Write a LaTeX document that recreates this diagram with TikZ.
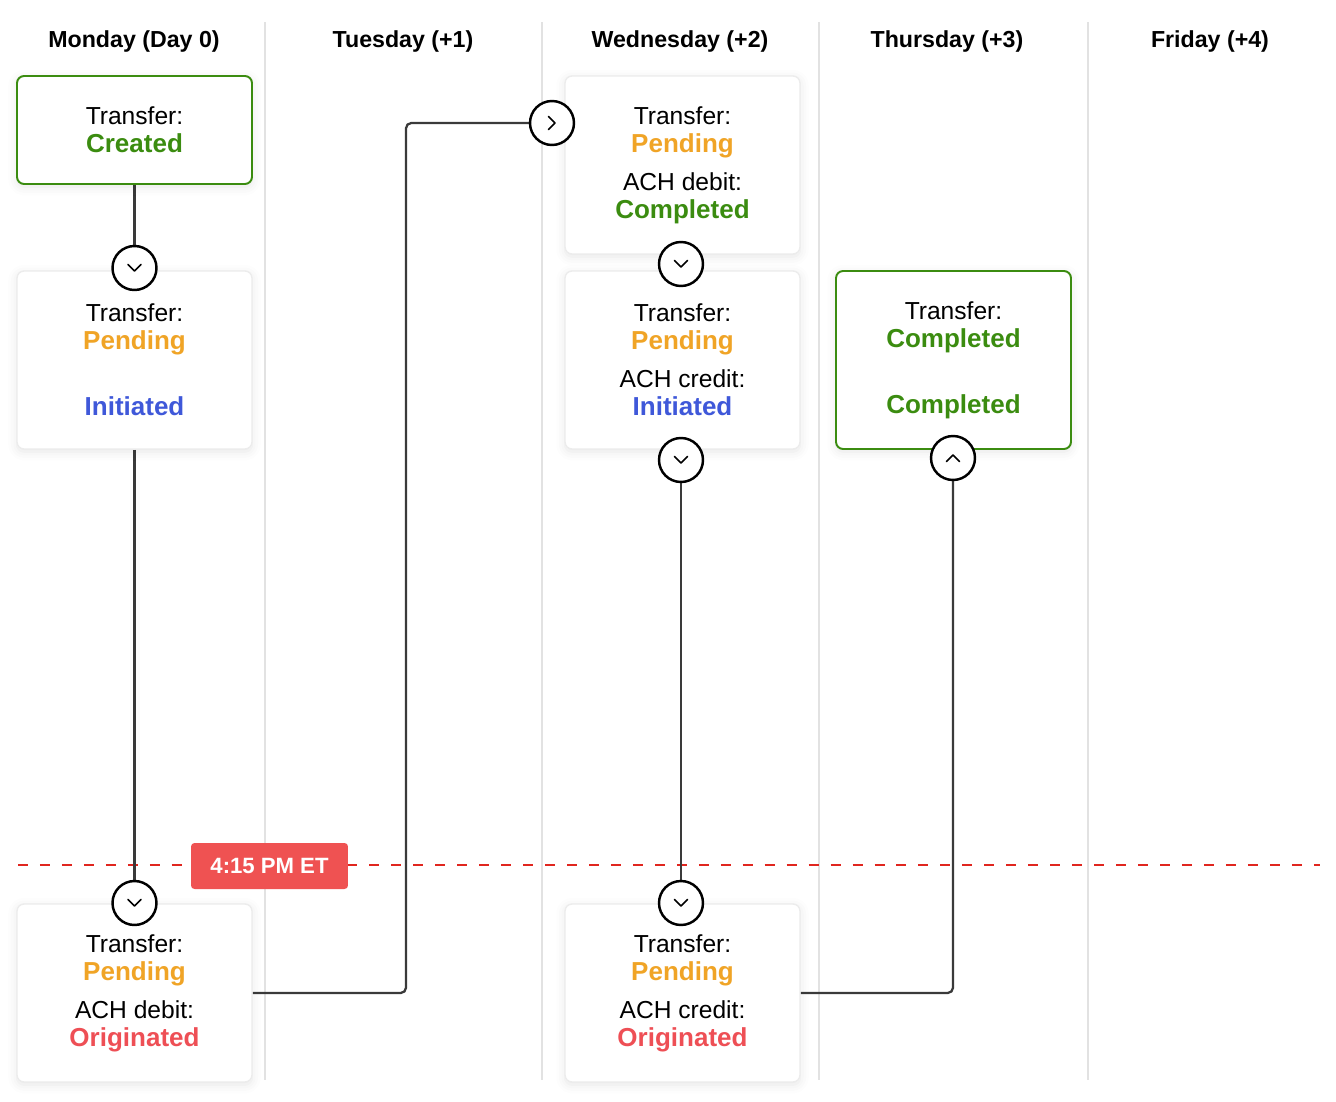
\documentclass[tikz,border=0pt]{standalone}
\usepackage{fontspec}
\setmainfont{Liberation Sans}
\usepackage{xcolor}
\usetikzlibrary{positioning,calc,backgrounds,shadows.blur}

\definecolor{okgreen}{HTML}{3B8C10}
\definecolor{pend}{HTML}{F0A426}
\definecolor{init}{HTML}{3F58D9}
\definecolor{orig}{HTML}{EE4F55}
\definecolor{cutred}{HTML}{EF5252}
\definecolor{dashred}{HTML}{E0261F}
\definecolor{cardline}{HTML}{ECECEC}
\definecolor{colgray}{HTML}{E2E2E2}
\definecolor{linegray}{HTML}{3A3A3A}

\newcommand{\statusword}[2]{{\fontsize{14.8}{15.9}\selectfont\bfseries\textcolor{#1}{#2}}}

\begin{document}
\begin{tikzpicture}[x=0.02cm, y=-0.02cm,
    card/.style={rectangle, draw=cardline, line width=0.8pt, fill=white, rounded corners=4pt,
        minimum width=4.7cm, minimum height=3.56cm, align=center,
        font=\fontsize{14}{15.9}\selectfont,
        blur shadow={shadow xshift=0pt, shadow yshift=-1.5pt, shadow blur radius=5pt, shadow opacity=10}},
    done/.style={card, draw=okgreen, line width=1.1pt},
    head/.style={font=\fontsize{13.2}{16}\selectfont\bfseries},
    knob/.style={circle, draw=black, line width=1.4pt, fill=white, minimum size=0.88cm, inner sep=0pt},
    conn/.style={draw=linegray, line width=1.3pt, rounded corners=3pt},
    colline/.style={draw=colgray, line width=1.1pt},
    cutline/.style={draw=dashred, line width=1.1pt, dash pattern=on 5.7pt off 6.8pt},
    cutoff/.style={fill=cutred, text=white, rounded corners=2pt, minimum width=3.14cm, minimum height=0.92cm,
        font=\fontsize{12.6}{16}\selectfont\bfseries},
    chev/.pic={\draw[line width=0.9pt, line cap=round, line join=round] (-6.5,-3.5) -- (0,3) -- (6.5,-3.5);}
]
    \useasboundingbox (0,0) rectangle (1336,1102);

    \node[head] (mon) at (134,42) {Monday (Day 0)};
    \node[head] (tue) at (403,42) {Tuesday (+1)};
    \node[head] (wed) at (680,42) {Wednesday (+2)};
    \node[head] (thu) at (947,42) {Thursday (+3)};
    \node[head] (fri) at (1210,42) {Friday (+4)};

    \node[done, minimum height=2.16cm] (created) at (134.5,130)
        {Transfer:\\\statusword{okgreen}{Created}};
    \node[card] (monpend) at (134.5,360)
        {Transfer:\\\statusword{pend}{Pending}\\[5.7pt]\mbox{}\\\statusword{init}{Initiated}};
    \node[card] (monbot) at (134.5,993)
        {Transfer:\\\statusword{pend}{Pending}\\[5.7pt]ACH debit:\\\statusword{orig}{Originated}};
    \node[card] (weddebit) at (682.5,165)
        {Transfer:\\\statusword{pend}{Pending}\\[5.7pt]ACH debit:\\\statusword{okgreen}{Completed}};
    \node[card] (wedcredit) at (682.5,360)
        {Transfer:\\\statusword{pend}{Pending}\\[5.7pt]ACH credit:\\\statusword{init}{Initiated}};
    \node[card] (wedbot) at (682.5,993)
        {Transfer:\\\statusword{pend}{Pending}\\[5.7pt]ACH credit:\\\statusword{orig}{Originated}};
    \node[done] (thudone) at (953.5,360)
        {Transfer:\\\statusword{okgreen}{Completed}\\[5.7pt]\mbox{}\\\statusword{okgreen}{Completed}};

    \foreach \n/\p/\r in {c1/{134.5,268}/0, c2/{134.5,903}/0, c3/{552,123}/90, c4/{681,264}/0,
                         c5/{681,460}/0, c6/{681,903}/0, c7/{953,458}/180} {
        \node[knob] (\n) at (\p) {};
        \pic[rotate=\r] at (\n) {chev};
    }

    \node[cutoff] (cut) at (269.5,866) {4:15 PM ET};

    \coordinate (cutL) at (18,865);
    \coordinate (cutR) at (1320,865);
    \coordinate (tuelane) at (406,0);

    \begin{scope}[on background layer]
        \foreach \x in {265,542,819,1088}
            \draw[colline] (\x,22) -- (\x,1080);
        \draw[cutline] (cutL) -- (cutR);
        \draw[conn] (created) -- (c1);
        \draw[conn] (monpend) -- (c2);
        \draw[conn] (monbot.east) -| (c3.west -| tuelane) -- (c3);
        \draw[conn] (c5) -- (c6);
        \draw[conn] (wedbot.east) -| (c7);
    \end{scope}
\end{tikzpicture}
\end{document}
